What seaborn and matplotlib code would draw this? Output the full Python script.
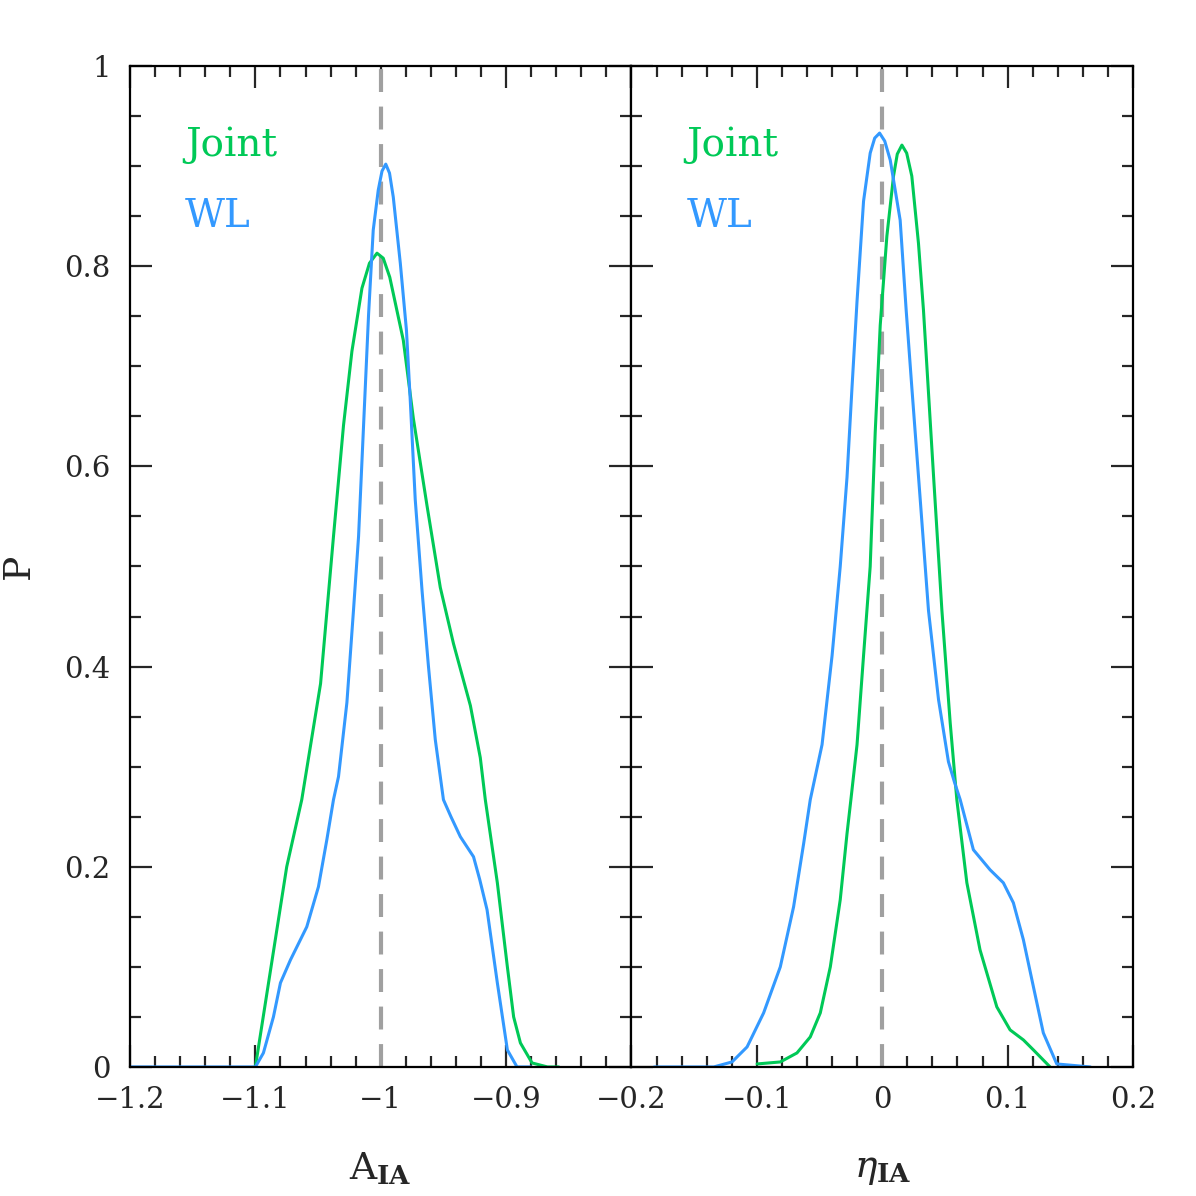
import matplotlib
matplotlib.use('Agg')
import matplotlib.pyplot as plt
import seaborn as sns

# A_IA panel
a_joint_x = [-1.100, -1.0875, -1.075, -1.063, -1.048, -1.0377, -1.0297, -1.023, -1.015, -1.009,
             -1.003, -0.998, -0.9928, -0.982, -0.974, -0.963, -0.9525, -0.942, -0.9285, -0.9206,
             -0.9166, -0.907, -0.899, -0.894, -0.8886, -0.8793, -0.867, -0.858]
a_joint_y = [0.0, 0.10, 0.20, 0.267, 0.383, 0.530, 0.641, 0.715, 0.778, 0.803,
             0.813, 0.808, 0.789, 0.726, 0.648, 0.560, 0.479, 0.423, 0.361, 0.309,
             0.267, 0.184, 0.100, 0.050, 0.024, 0.004, 0.0, 0.0]
a_wl_x = [-1.200, -1.100, -1.0936, -1.0856, -1.080, -1.072, -1.059, -1.0497, -1.043, -1.0377,
          -1.0337, -1.027, -1.0217, -1.0177, -1.0137, -1.0097, -1.006, -1.002, -0.999, -0.996,
          -0.993, -0.990, -0.9844, -0.9795, -0.9765, -0.9725, -0.967, -0.962, -0.9565, -0.950,
          -0.944, -0.9365, -0.926, -0.921, -0.9152, -0.907, -0.899, -0.8913, -0.880]
a_wl_y = [0.0, 0.0, 0.014, 0.05, 0.084, 0.107, 0.14, 0.18, 0.227, 0.267,
          0.29, 0.364, 0.457, 0.530, 0.641, 0.752, 0.836, 0.876, 0.895, 0.902,
          0.893, 0.869, 0.803, 0.736, 0.667, 0.567, 0.475, 0.401, 0.327, 0.267,
          0.25, 0.23, 0.21, 0.187, 0.157, 0.084, 0.017, 0.0, 0.0]

# eta_IA panel
e_joint_x = [-0.0998, -0.0813, -0.068, -0.0574, -0.0494, -0.0414, -0.0335, -0.0281, -0.025, -0.0201,
             -0.0149, -0.0096, -0.0056, -0.0016, 0.0037, 0.009, 0.012, 0.0157, 0.0195, 0.0236,
             0.0289, 0.0329, 0.041, 0.0476, 0.0542, 0.0595, 0.0675, 0.078, 0.0914, 0.102,
             0.1126, 0.1206, 0.1339]
e_joint_y = [0.003, 0.005, 0.014, 0.03, 0.054, 0.1, 0.167, 0.233, 0.267, 0.322,
             0.411, 0.5, 0.634, 0.741, 0.830, 0.890, 0.912, 0.921, 0.913, 0.89,
             0.823, 0.756, 0.589, 0.456, 0.344, 0.267, 0.184, 0.117, 0.06, 0.037,
             0.027, 0.017, 0.0]
e_wl_x = [-0.182, -0.1344, -0.1198, -0.1078, -0.0946, -0.0813, -0.0707, -0.0627, -0.0574, -0.048,
          -0.040, -0.0335, -0.0281, -0.0241, -0.0201, -0.0149, -0.0096, -0.006, -0.0021, 0.002,
          0.0064, 0.0143, 0.0191, 0.0236, 0.0303, 0.0369, 0.0449, 0.0528, 0.0575, 0.0622,
          0.0727, 0.086, 0.0966, 0.1046, 0.1126, 0.1206, 0.1285, 0.1392, 0.166]
e_wl_y = [0.0, 0.0, 0.005, 0.02, 0.054, 0.1, 0.16, 0.223, 0.267, 0.322,
          0.411, 0.5, 0.589, 0.679, 0.765, 0.865, 0.913, 0.928, 0.933, 0.925,
          0.906, 0.846, 0.756, 0.679, 0.567, 0.456, 0.367, 0.305, 0.285, 0.267,
          0.217, 0.197, 0.184, 0.164, 0.127, 0.08, 0.034, 0.003, 0.0]

fiducial = [-1.0, 0.0]
labels = ['Joint', 'WL']
xlabels = ['A$_{\\mathbf{IA}}$', '$\\eta_{\\mathbf{IA}}$']
green = '#00c957'
blue = '#3399ff'

sns.set_style('ticks')
plt.rcParams['font.family'] = ['DejaVu Serif']
plt.rcParams['mathtext.fontset'] = 'dejavuserif'

fig, axes = plt.subplots(1, 2, figsize=(11.96, 11.96), dpi=100, sharey=True)
fig.subplots_adjust(left=0.1087, right=0.9473, top=0.9448, bottom=0.1079, wspace=0)

panels = [
    (a_joint_x, a_joint_y, a_wl_x, a_wl_y, (-1.2, -0.8)),
    (e_joint_x, e_joint_y, e_wl_x, e_wl_y, (-0.2, 0.2)),
]

for i, (ax, (jx, jy, wx, wy, xlim)) in enumerate(zip(axes, panels)):
    ax.axvline(fiducial[i], color='#a0a0a0', lw=3, dashes=(5.5, 3.5), zorder=1)
    sns.lineplot(x=jx, y=jy, ax=ax, color=green, lw=2.2, sort=False, estimator=None,
                 solid_joinstyle='round', solid_capstyle='round')
    sns.lineplot(x=wx, y=wy, ax=ax, color=blue, lw=2.2, sort=False, estimator=None,
                 solid_joinstyle='round', solid_capstyle='round')
    ax.set_xlim(*xlim)
    ax.set_ylim(0, 1)
    ticks = [round(xlim[0] + 0.1 * k, 1) for k in range(5)]
    ax.set_xticks(ticks)
    names = [('%g' % t).replace('-', '\u2212') for t in ticks]
    if i == 0:
        names[-1] = ''
    ax.set_xticklabels(names)
    ax.xaxis.set_minor_locator(plt.MultipleLocator(0.02))
    ax.yaxis.set_minor_locator(plt.MultipleLocator(0.05))
    ax.tick_params(which='both', direction='in', top=True, bottom=True, left=True, right=True,
                   width=1.6, labelsize=21, pad=14)
    ax.tick_params(which='major', length=16)
    ax.tick_params(which='minor', length=8)
    for s in ax.spines.values():
        s.set_linewidth(1.6)
        s.set_color('black')
    ax.set_xlabel(xlabels[i], fontsize=27)
    ax.xaxis.set_label_coords(0.5, -0.084)
    ax.text(0.11, 0.921, labels[0], color=green, fontsize=28, transform=ax.transAxes, va='center')
    ax.text(0.11, 0.850, labels[1], color=blue, fontsize=28, transform=ax.transAxes, va='center')

axes[0].set_yticks([0, 0.2, 0.4, 0.6, 0.8, 1.0])
axes[0].set_yticklabels(['0', '0.2', '0.4', '0.6', '0.8', '1'])
axes[0].set_ylabel('P', fontsize=27)
axes[0].yaxis.set_label_coords(-0.186, 0.5)
axes[1].tick_params(labelleft=False)

fig.savefig('out.png', dpi=100, facecolor='white')
